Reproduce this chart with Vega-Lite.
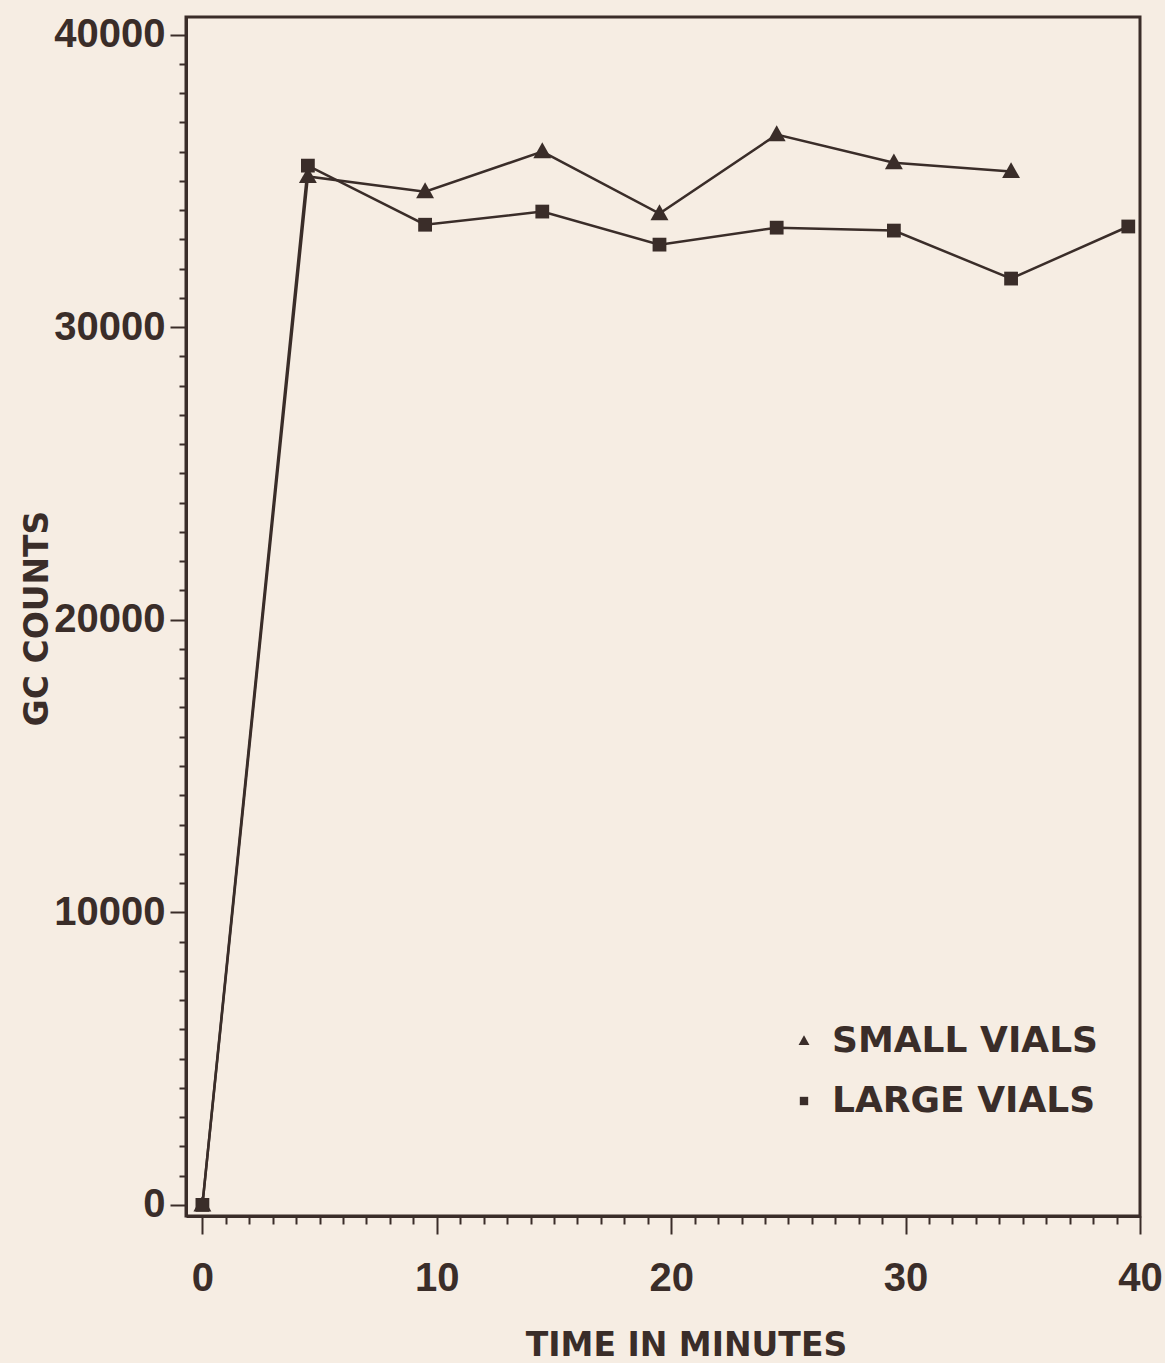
{
  "$schema": "https://vega.github.io/schema/vega-lite/v6.json",
  "width": 954,
  "height": 1199,
  "autosize": {"type": "none"},
  "padding": {"left": 186, "top": 17, "right": 25, "bottom": 147},
  "background": "#f6ede3",
  "config": {
    "view": {"stroke": "#3a2d29", "strokeWidth": 3},
    "axis": {"grid": false}
  },
  "data": {
    "values": [
      {"t": 0, "gc": 0, "series": "SMALL VIALS"},
      {"t": 4.5, "gc": 35150, "series": "SMALL VIALS"},
      {"t": 9.5, "gc": 34630, "series": "SMALL VIALS"},
      {"t": 14.5, "gc": 36000, "series": "SMALL VIALS"},
      {"t": 19.5, "gc": 33880, "series": "SMALL VIALS"},
      {"t": 24.5, "gc": 36580, "series": "SMALL VIALS"},
      {"t": 29.5, "gc": 35620, "series": "SMALL VIALS"},
      {"t": 34.5, "gc": 35320, "series": "SMALL VIALS"},
      {"t": 0, "gc": 0, "series": "LARGE VIALS"},
      {"t": 4.5, "gc": 35520, "series": "LARGE VIALS"},
      {"t": 9.5, "gc": 33500, "series": "LARGE VIALS"},
      {"t": 14.5, "gc": 33950, "series": "LARGE VIALS"},
      {"t": 19.5, "gc": 32820, "series": "LARGE VIALS"},
      {"t": 24.5, "gc": 33400, "series": "LARGE VIALS"},
      {"t": 29.5, "gc": 33300, "series": "LARGE VIALS"},
      {"t": 34.5, "gc": 31660, "series": "LARGE VIALS"},
      {"t": 39.5, "gc": 33440, "series": "LARGE VIALS"}
    ]
  },
  "encoding": {
    "x": {
      "field": "t",
      "type": "quantitative",
      "scale": {"domain": [-0.7, 40], "nice": false, "zero": false},
      "axis": {
        "title": "TIME IN MINUTES",
        "values": [0,1,2,3,4,5,6,7,8,9,10,11,12,13,14,15,16,17,18,19,20,21,22,23,24,25,26,27,28,29,30,31,32,33,34,35,36,37,38,39,40],
        "format": "d",
        "labelExpr": "datum.value % 10 === 0 ? datum.label : ''",
        "tickSize": {"condition": {"test": "datum.value % 10 === 0", "value": 18}, "value": 8},
        "tickWidth": 2,
        "tickColor": "#3a2d29",
        "domainColor": "#3a2d29",
        "domainWidth": 3,
        "labelFont": "Liberation Sans",
        "labelFontWeight": "bold",
        "labelFontSize": 40,
        "labelColor": "#3a2d29",
        "labelBaseline": "alphabetic",
        "labelPadding": 56,
        "labelFlush": false,
        "labelOverlap": false,
        "labelBound": false,
        "titleFont": "DejaVu Sans",
        "titleFontWeight": "bold",
        "titleFontSize": 33,
        "titleColor": "#3a2d29",
        "titleX": 500,
        "titleY": 139,
        "titleBaseline": "alphabetic",
        "titleAlign": "center"
      }
    },
    "y": {
      "field": "gc",
      "type": "quantitative",
      "scale": {"domain": [-380, 40600], "nice": false, "zero": false},
      "axis": {
        "title": "GC COUNTS",
        "values": [0,1000,2000,3000,4000,5000,6000,7000,8000,9000,10000,11000,12000,13000,14000,15000,16000,17000,18000,19000,20000,21000,22000,23000,24000,25000,26000,27000,28000,29000,30000,31000,32000,33000,34000,35000,36000,37000,38000,39000,40000],
        "format": "d",
        "labelExpr": "datum.value % 10000 === 0 ? datum.label : ''",
        "tickSize": {"condition": {"test": "datum.value % 10000 === 0", "value": 16}, "value": 7},
        "tickWidth": 2,
        "tickColor": "#3a2d29",
        "domainColor": "#3a2d29",
        "domainWidth": 3,
        "labelFont": "Liberation Sans",
        "labelFontWeight": "bold",
        "labelFontSize": 40,
        "labelColor": "#3a2d29",
        "labelBaseline": "middle",
        "labelPadding": 5,
        "labelOverlap": false,
        "labelFlush": false,
        "labelBound": false,
        "titleFont": "DejaVu Sans",
        "titleFontWeight": "bold",
        "titleFontSize": 33,
        "titleColor": "#3a2d29",
        "titleAngle": 270,
        "titleX": -139,
        "titleY": 601,
        "titleBaseline": "alphabetic",
        "titleAlign": "center"
      }
    }
  },
  "layer": [
    {
      "mark": {"type": "line", "color": "#3a2d29", "strokeWidth": 2.5},
      "encoding": {"detail": {"field": "series", "type": "nominal"}}
    },
    {
      "mark": {"type": "point", "filled": true, "opacity": 1, "color": "#3a2d29", "size": 190},
      "encoding": {
        "shape": {
          "field": "series",
          "type": "nominal",
          "scale": {"domain": ["SMALL VIALS", "LARGE VIALS"], "range": ["M0,-1.35L1.3,0.95L-1.3,0.95Z", "square"]},
          "legend": {
            "title": null,
            "orient": "none",
            "legendX": 600,
            "legendY": 1006,
            "padding": 0,
            "symbolSize": 70,
            "symbolFillColor": "#3a2d29",
            "symbolStrokeColor": "#3a2d29",
            "symbolOpacity": 1,
            "labelFont": "DejaVu Sans",
            "labelFontWeight": "bold",
            "labelFontSize": 36,
            "labelColor": "#3a2d29",
            "labelOffset": 10,
            "rowPadding": 24,
            "labelLimit": 400
          }
        }
      }
    }
  ]
}
